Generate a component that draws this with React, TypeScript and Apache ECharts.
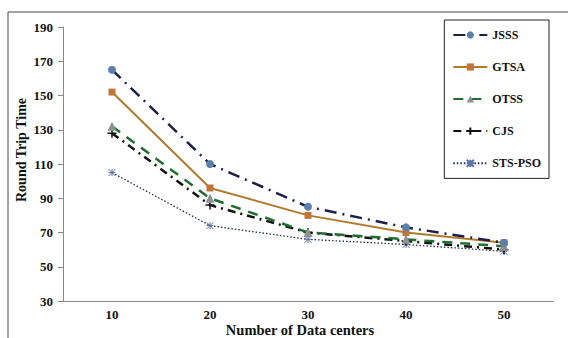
import React, { useEffect, useRef } from "react";
import * as echarts from "echarts";

const categories = ["10", "20", "30", "40", "50"];
const jsss = [165, 110, 85, 73, 64];
const gtsa = [152, 96, 80, 70, 64];
const otss = [132, 90, 70, 66, 62];
const cjs = [128, 86, 70, 65, 60];
const stsPso = [105, 74, 66, 63, 59];
const yTicks = { min: 30, max: 190, interval: 20 };

const FONT = "Liberation Serif";

const crossSymbol = "path://M0,0L10,10M10,0L0,10M5,0L5,10M0,5L10,5";
const plusSymbol = "path://M0,5L10,5M5,1L5,9";

export default function App() {
  const ref = useRef<HTMLDivElement>(null);

  useEffect(() => {
    document.body.style.margin = "0";
    const chart = echarts.init(ref.current!, undefined, { renderer: "svg" });
    chart.setOption({
      animation: false,
      backgroundColor: "#fff",
      textStyle: { fontFamily: FONT },
      grid: { left: 63, right: 15, top: 27, bottom: 37 },
      graphic: [
        {
          type: "rect",
          shape: { x: 8, y: 12, width: 600, height: 400 },
          style: { fill: "none", stroke: "#444", lineWidth: 1 },
          silent: true,
        },
        {
          type: "text",
          x: 21,
          y: 150,
          rotation: Math.PI / 2,
          style: {
            text: "Round Trip Time",
            fontFamily: FONT,
            fontWeight: "bold",
            fontSize: 14,
            fill: "#111",
            align: "center",
            verticalAlign: "middle",
          },
        },
        {
          type: "text",
          x: 300,
          y: 330,
          style: {
            text: "Number of Data centers",
            fontFamily: FONT,
            fontWeight: "bold",
            fontSize: 14.5,
            fill: "#111",
            align: "center",
            verticalAlign: "middle",
          },
        },
      ],
      legend: {
        orient: "vertical",
        right: 19,
        top: 20,
        padding: [9, 8, 9, 8],
        itemGap: 20,
        itemWidth: 34,
        itemHeight: 9,
        borderColor: "#222",
        borderWidth: 1,
        textStyle: {
          fontFamily: FONT,
          fontWeight: "bold",
          fontSize: 12,
          color: "#111",
          padding: [0, 6, 0, 0],
        },
        data: ["JSSS", "GTSA", "OTSS", "CJS", "STS-PSO"],
      },
      xAxis: {
        type: "category",
        data: categories,
        boundaryGap: true,
        axisLine: { lineStyle: { color: "#888", width: 1 } },
        axisTick: { alignWithLabel: true, length: 5, lineStyle: { color: "#888" } },
        axisLabel: { fontFamily: FONT, fontWeight: "bold", fontSize: 13, color: "#111", margin: 7 },
      },
      yAxis: {
        type: "value",
        min: yTicks.min,
        max: yTicks.max,
        interval: yTicks.interval,
        splitLine: { show: false },
        axisLine: { show: true, lineStyle: { color: "#888", width: 1 } },
        axisTick: { show: true, length: 5, lineStyle: { color: "#888" } },
        axisLabel: { fontFamily: FONT, fontWeight: "bold", fontSize: 13, color: "#111", margin: 10 },
      },
      series: [
        {
          name: "JSSS",
          type: "line",
          data: jsss,
          symbol: "circle",
          symbolSize: 8,
          itemStyle: { color: "#5b80ab" },
          lineStyle: { color: "#1c1f4a", width: 2.5, type: [12, 6, 2, 6] },
          z: 5,
        },
        {
          name: "GTSA",
          type: "line",
          data: gtsa,
          symbol: "rect",
          symbolSize: 7,
          itemStyle: { color: "#c0763a" },
          lineStyle: { color: "#b27a2c", width: 2 },
          z: 4,
        },
        {
          name: "OTSS",
          type: "line",
          data: otss,
          symbol: "triangle",
          symbolSize: 9,
          itemStyle: { color: "#8c9290" },
          lineStyle: { color: "#1f6e30", width: 2.5, type: [10, 8] },
          z: 3,
        },
        {
          name: "CJS",
          type: "line",
          data: cjs,
          symbol: plusSymbol,
          symbolSize: 9,
          itemStyle: { color: "none", borderColor: "#111", borderWidth: 1.5 },
          lineStyle: { color: "#111", width: 2.5, type: [8, 5, 2, 5] },
          z: 2,
        },
        {
          name: "STS-PSO",
          type: "line",
          data: stsPso,
          symbol: crossSymbol,
          symbolSize: 7,
          itemStyle: { color: "none", borderColor: "#5b72a8", borderWidth: 1 },
          lineStyle: { color: "#222a4a", width: 1.3, type: [1.5, 2] },
          z: 1,
        },
      ],
    });
    return () => chart.dispose();
  }, []);

  return <div ref={ref} style={{ width: 568, height: 338 }} />;
}
